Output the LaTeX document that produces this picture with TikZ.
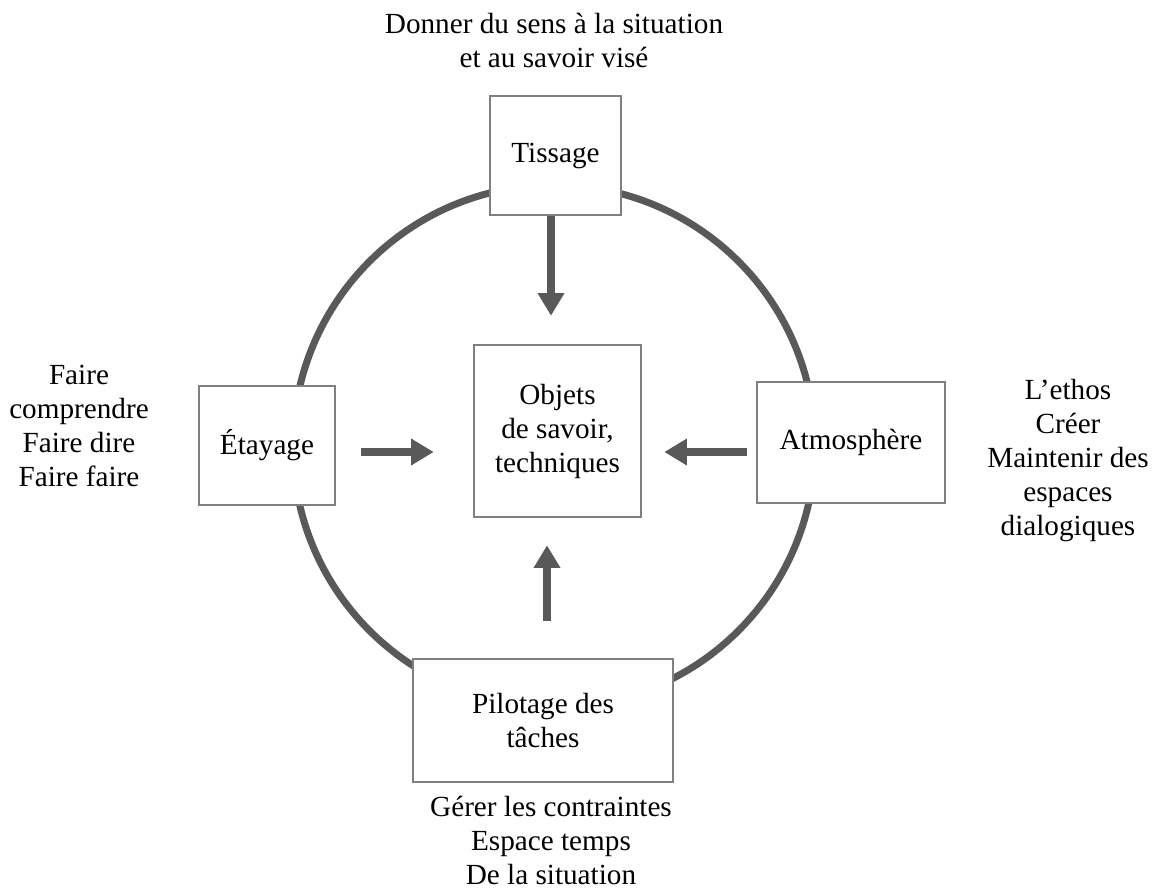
\documentclass[tikz,border=0pt]{standalone}
\usepackage{fontspec}
\setmainfont{Liberation Serif}
\usetikzlibrary{arrows.meta}
\definecolor{ring}{HTML}{595959}
\definecolor{frame}{HTML}{808080}
\begin{document}
\begin{tikzpicture}[x=0.75pt,y=-0.75pt,
  txt/.style={font=\fontsize{21.9}{25.5}\selectfont},
  box/.style={txt,draw=frame,line width=1.9pt,fill=white,align=center,inner sep=0pt},
  lbl/.style={txt,align=center,inner sep=0pt},
  arr/.style={draw=ring,line width=5.6pt,-{Triangle[length=17pt,width=19pt]}}]
\useasboundingbox (0,0) rectangle (1154,890);
% ring
\coordinate (c) at (554,446);
\draw[ring,line width=5.25pt] (c) circle[radius=195.75pt];
% boxes
\node[box,minimum width=98.25pt,minimum height=89.25pt] (tissage) at (555.5,155.5) {Tissage};
\node[box,minimum width=125.25pt,minimum height=129pt] (objets) at (557.5,431) {Objets\\de savoir,\\techniques};
\node[box,minimum width=102pt,minimum height=89.25pt] (etayage) at (267,445.5) {Étayage};
\node[box,minimum width=141pt,minimum height=90.75pt] (atmos) at (851,442.5) {Atmosphère};
\node[box,minimum width=195pt,minimum height=92.25pt] (pilotage) at (543,720.5) {Pilotage des\\tâches};
% side texts
\node[lbl] (ttop) at (554,40) {Donner du sens à la situation\\et au savoir visé};
\node[lbl] (tleft) at (79,426) {Faire\\comprendre\\Faire dire\\Faire faire};
\node[lbl] (tright) at (1068,461) {L’ethos\\Créer\\Maintenir des\\espaces\\dialogiques};
\node[lbl] (tbottom) at (551,840) {Gérer les contraintes\\Espace temps\\De la situation};
% arrows
\coordinate (ay) at (0,452);
\coordinate (ax1) at (551,0);
\coordinate (ax2) at (547,0);
\draw[arr,shorten >=21pt] (tissage.south -| ax1) -- (objets.north -| ax1);
\draw[arr,shorten <=18.75pt,shorten >=29.25pt] (etayage.east |- ay) -- (objets.west |- ay);
\draw[arr,shorten <=6.75pt,shorten >=16.5pt] (atmos.west |- ay) -- (objets.east |- ay);
\draw[arr,shorten <=27.75pt,shorten >=20.25pt] (pilotage.north -| ax2) -- (objets.south -| ax2);
\end{tikzpicture}
\end{document}
